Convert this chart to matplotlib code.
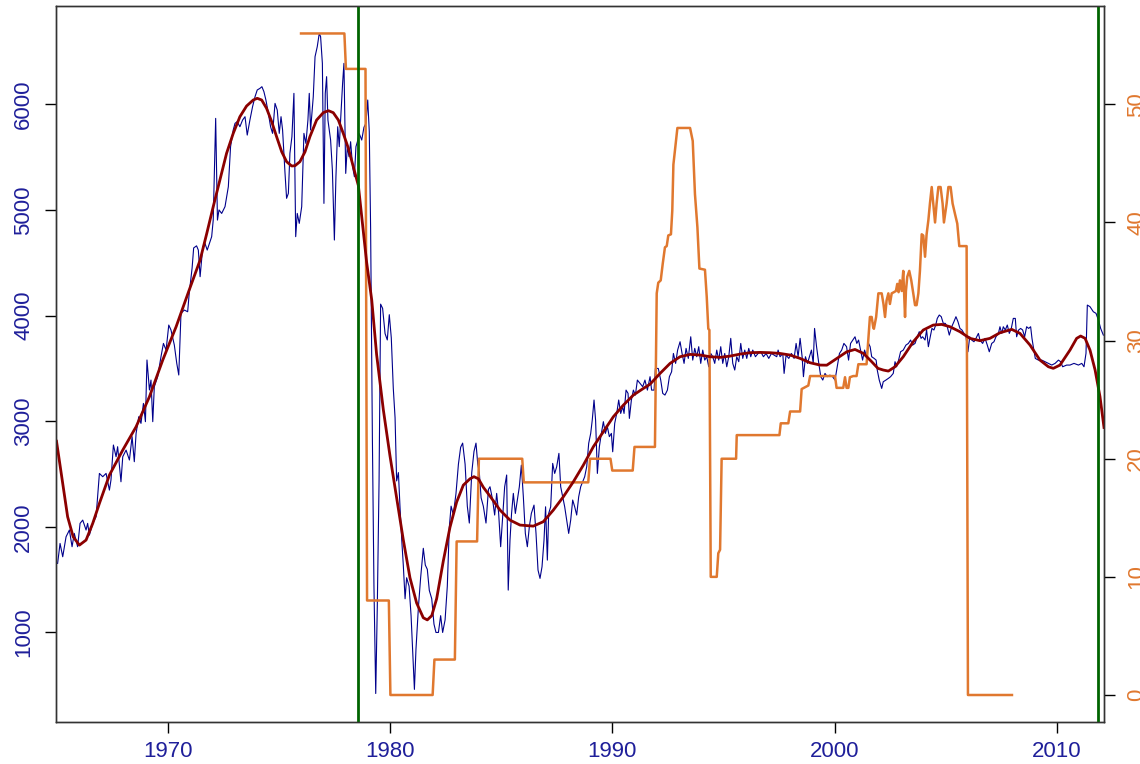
import matplotlib
matplotlib.use("Agg")
import matplotlib.pyplot as plt

plt.rcParams['font.family'] = ['Liberation Sans', 'DejaVu Sans']

# monthly series (left axis)
blue_year = [
    1965.05, 1965.16, 1965.28, 1965.43, 1965.58, 1965.70, 1965.80, 1965.95, 1966.06, 1966.18,
    1966.33, 1966.40, 1966.48, 1966.63, 1966.78, 1966.93, 1967.08, 1967.23, 1967.38, 1967.45,
    1967.56, 1967.68, 1967.75, 1967.90, 1967.98, 1968.13, 1968.28, 1968.40, 1968.50, 1968.58,
    1968.70, 1968.80, 1968.91, 1969.00, 1969.07, 1969.18, 1969.25, 1969.33, 1969.40, 1969.55,
    1969.70, 1969.81, 1969.93, 1970.05, 1970.15, 1970.30, 1970.41, 1970.50, 1970.60, 1970.75,
    1970.90, 1970.97, 1971.10, 1971.17, 1971.30, 1971.38, 1971.46, 1971.58, 1971.68, 1971.78,
    1971.88, 1971.98, 1972.05, 1972.16, 1972.24, 1972.31, 1972.43, 1972.58, 1972.73, 1972.83,
    1972.95, 1973.03, 1973.13, 1973.25, 1973.37, 1973.48, 1973.58, 1973.70, 1973.82, 1973.93,
    1974.03, 1974.15, 1974.24, 1974.33, 1974.42, 1974.53, 1974.63, 1974.72, 1974.83, 1974.93,
    1975.02, 1975.10, 1975.17, 1975.28, 1975.35, 1975.43, 1975.50, 1975.59, 1975.68, 1975.76,
    1975.83, 1975.92, 1976.03, 1976.13, 1976.22, 1976.31, 1976.37, 1976.43, 1976.55, 1976.63,
    1976.73, 1976.82, 1976.88, 1976.96, 1977.03, 1977.09, 1977.15, 1977.21, 1977.27, 1977.33,
    1977.41, 1977.50, 1977.57, 1977.65, 1977.72, 1977.78, 1977.87, 1977.93, 1978.01, 1978.08,
    1978.16, 1978.23, 1978.32, 1978.40, 1978.47, 1978.53, 1978.62, 1978.73, 1978.83, 1978.92,
    1979.00, 1979.07, 1979.13, 1979.21, 1979.28, 1979.36, 1979.43, 1979.51, 1979.58, 1979.67,
    1979.78, 1979.88, 1979.97, 1980.06, 1980.15, 1980.23, 1980.30, 1980.38, 1980.45, 1980.53,
    1980.60, 1980.68, 1980.75, 1980.86, 1980.95, 1981.02, 1981.10, 1981.17, 1981.28, 1981.38,
    1981.50, 1981.59, 1981.68, 1981.77, 1981.88, 1981.98, 1982.07, 1982.18, 1982.28, 1982.37,
    1982.48, 1982.58, 1982.67, 1982.75, 1982.85, 1982.97, 1983.08, 1983.18, 1983.27, 1983.38,
    1983.48, 1983.57, 1983.68, 1983.78, 1983.87, 1983.95, 1984.02, 1984.10, 1984.20, 1984.32,
    1984.43, 1984.50, 1984.62, 1984.71, 1984.80, 1984.89, 1984.98, 1985.07, 1985.16, 1985.25,
    1985.32, 1985.40, 1985.47, 1985.55, 1985.64, 1985.73, 1985.82, 1985.91, 1986.00, 1986.09,
    1986.18, 1986.27, 1986.36, 1986.48, 1986.57, 1986.66, 1986.75, 1986.84, 1986.93, 1987.00,
    1987.08, 1987.14, 1987.23, 1987.32, 1987.41, 1987.50, 1987.60, 1987.68, 1987.77, 1987.86,
    1987.95, 1988.04, 1988.13, 1988.22, 1988.31, 1988.40, 1988.49, 1988.58, 1988.67, 1988.76,
    1988.85, 1988.94, 1989.03, 1989.10, 1989.18, 1989.25, 1989.33, 1989.42, 1989.51, 1989.60,
    1989.69, 1989.78, 1989.87, 1989.96, 1990.02, 1990.11, 1990.20, 1990.29, 1990.38, 1990.47,
    1990.53, 1990.62, 1990.71, 1990.77, 1990.86, 1990.95, 1991.04, 1991.13, 1991.25, 1991.37,
    1991.47, 1991.58, 1991.70, 1991.77, 1991.88, 1991.94, 1992.07, 1992.18, 1992.27, 1992.37,
    1992.48, 1992.57, 1992.67, 1992.75, 1992.85, 1992.94, 1993.05, 1993.14, 1993.23, 1993.32,
    1993.42, 1993.53, 1993.62, 1993.71, 1993.80, 1993.89, 1993.98, 1994.07, 1994.16, 1994.25,
    1994.34, 1994.43, 1994.52, 1994.61, 1994.70, 1994.79, 1994.88, 1994.97, 1995.06, 1995.15,
    1995.24, 1995.33, 1995.42, 1995.51, 1995.60, 1995.69, 1995.78, 1995.87, 1995.96, 1996.05,
    1996.14, 1996.23, 1996.32, 1996.44, 1996.56, 1996.68, 1996.80, 1996.92, 1997.04, 1997.16,
    1997.28, 1997.40, 1997.46, 1997.55, 1997.67, 1997.73, 1997.82, 1997.94, 1998.06, 1998.18,
    1998.27, 1998.36, 1998.45, 1998.54, 1998.60, 1998.69, 1998.78, 1998.87, 1998.96, 1999.04,
    1999.10, 1999.19, 1999.29, 1999.38, 1999.47, 1999.57, 1999.67, 1999.79, 1999.91, 2000.02,
    2000.12, 2000.22, 2000.32, 2000.42, 2000.54, 2000.63, 2000.72, 2000.82, 2000.92, 2001.00,
    2001.08, 2001.17, 2001.26, 2001.35, 2001.44, 2001.53, 2001.60, 2001.67, 2001.78, 2001.87,
    2001.92, 2002.01, 2002.12, 2002.19, 2002.31, 2002.42, 2002.52, 2002.64, 2002.72, 2002.79,
    2002.88, 2002.97, 2003.09, 2003.21, 2003.32, 2003.42, 2003.51, 2003.62, 2003.72, 2003.81,
    2003.89, 2003.96, 2004.07, 2004.14, 2004.22, 2004.29, 2004.38, 2004.47, 2004.55, 2004.62,
    2004.71, 2004.80, 2004.89, 2004.98, 2005.07, 2005.16, 2005.27, 2005.37, 2005.46, 2005.55,
    2005.64, 2005.73, 2005.82, 2005.91, 2006.00, 2006.08, 2006.17, 2006.27, 2006.36, 2006.47,
    2006.54, 2006.66, 2006.77, 2006.87, 2006.96, 2007.07, 2007.17, 2007.26, 2007.37, 2007.44,
    2007.52, 2007.59, 2007.68, 2007.77, 2007.86, 2007.95, 2008.04, 2008.13, 2008.19, 2008.28,
    2008.37, 2008.46, 2008.55, 2008.64, 2008.73, 2008.82, 2008.88, 2008.94, 2009.03, 2009.17,
    2009.32, 2009.47, 2009.62, 2009.77, 2009.92, 2010.07, 2010.17, 2010.26, 2010.44, 2010.59,
    2010.77, 2010.97, 2011.12, 2011.22, 2011.31, 2011.37, 2011.49, 2011.64, 2011.76, 2011.87,
    2011.97, 2012.09,
]
blue_value = [
    1653, 1842, 1716, 1905, 1969, 1811, 1937, 1811, 2032, 2063,
    1969, 2032, 1921, 2032, 2095, 2505, 2474, 2505, 2347, 2442,
    2774, 2663, 2758, 2426, 2663, 2726, 2632, 2853, 2616, 2884,
    3042, 2979, 3168, 2995, 3579, 3295, 3389, 2995, 3326, 3421,
    3610, 3736, 3673, 3910, 3863, 3721, 3547, 3437, 4021, 4052,
    4036, 4210, 4450, 4640, 4660, 4620, 4368, 4652, 4683, 4620,
    4683, 4747, 4904, 5867, 4904, 5000, 4967, 5031, 5220, 5599,
    5757, 5820, 5836, 5788, 5851, 5883, 5709, 5851, 5978, 6072,
    6136, 6151, 6167, 6120, 6041, 5915, 5788, 5725, 6009, 5946,
    5725, 5883, 5757, 5346, 5110, 5157, 5536, 5694, 6104, 4747,
    4967, 4873, 5031, 5725, 5630, 5851, 6104, 5757, 6072, 6451,
    6546, 6672, 6641, 6388, 5062, 6104, 6262, 5851, 5757, 5662,
    5378, 4715, 5315, 5788, 5599, 5851, 6199, 6388, 5346, 5599,
    5504, 5646, 5409, 5315, 5599, 5642, 5722, 5662, 5782, 5822,
    6041, 5742, 4825, 2832, 1437, 421, 1238, 2434, 4108, 4068,
    3829, 3769, 4008, 3789, 3311, 3032, 2434, 2513, 2195, 1876,
    1637, 1318, 1517, 1437, 1158, 839, 460, 839, 1238, 1517,
    1796, 1637, 1597, 1397, 1318, 1078, 999, 999, 1158, 999,
    1118, 1437, 1995, 2195, 2115, 2314, 2593, 2753, 2792, 2593,
    2195, 2035, 2513, 2713, 2792, 2593, 2513, 2274, 2195, 2035,
    2354, 2379, 2253, 2111, 2316, 2126, 1811, 2095, 2379, 2490,
    1400, 1874, 2126, 2316, 2126, 2253, 2379, 2584, 2284, 1937,
    1811, 2000, 2126, 2205, 1937, 1590, 1511, 1621, 1874, 2189,
    1684, 2126, 2189, 2600, 2505, 2568, 2695, 2379, 2284, 2189,
    2063, 1937, 2063, 2253, 2189, 2111, 2284, 2379, 2426, 2474,
    2568, 2790, 2884, 3010, 3200, 3010, 2505, 2758, 2884, 2995,
    2884, 2947, 2853, 2884, 2710, 2979, 3073, 3200, 3073, 3137,
    3073, 3294, 3263, 3026, 3200, 3294, 3247, 3389, 3357, 3326,
    3389, 3294, 3421, 3294, 3294, 3499, 3499, 3389, 3263, 3247,
    3294, 3421, 3468, 3641, 3547, 3673, 3752, 3641, 3547, 3689,
    3594, 3799, 3578, 3689, 3610, 3705, 3547, 3673, 3578, 3610,
    3515, 3641, 3610, 3547, 3673, 3578, 3705, 3547, 3641, 3515,
    3610, 3784, 3547, 3484, 3610, 3563, 3736, 3594, 3673, 3594,
    3689, 3610, 3673, 3610, 3641, 3657, 3610, 3641, 3594, 3641,
    3626, 3610, 3673, 3610, 3641, 3452, 3626, 3594, 3641, 3594,
    3736, 3610, 3784, 3610, 3421, 3610, 3547, 3610, 3673, 3547,
    3878, 3705, 3547, 3421, 3389, 3452, 3421, 3436, 3421, 3389,
    3515, 3641, 3673, 3736, 3705, 3578, 3736, 3768, 3799, 3736,
    3768, 3673, 3578, 3673, 3610, 3736, 3705, 3610, 3594, 3578,
    3484, 3389, 3310, 3373, 3389, 3405, 3421, 3452, 3563, 3515,
    3578, 3657, 3673, 3720, 3736, 3768, 3720, 3736, 3799, 3847,
    3784, 3799, 3768, 3863, 3705, 3784, 3878, 3863, 3910, 3973,
    4005, 3989, 3926, 3926, 3894, 3815, 3894, 3942, 3989, 3942,
    3878, 3863, 3831, 3799, 3657, 3799, 3768, 3752, 3784, 3831,
    3768, 3736, 3784, 3720, 3657, 3736, 3752, 3799, 3831, 3894,
    3831, 3894, 3863, 3910, 3831, 3878, 3973, 3973, 3799, 3863,
    3878, 3863, 3799, 3894, 3878, 3894, 3784, 3705, 3594, 3578,
    3578, 3563, 3547, 3531, 3547, 3578, 3563, 3515, 3531, 3531,
    3547, 3531, 3547, 3515, 3642, 4099, 4084, 4036, 4021, 3957,
    3878, 3815,
]

# smooth trend (left axis)
trend_year = [
    1965.00, 1965.30, 1965.50, 1965.75, 1966.03, 1966.33, 1966.63, 1966.93, 1967.38, 1967.98,
    1968.58, 1969.18, 1969.78, 1970.38, 1970.97, 1971.46, 1971.76, 1972.05, 1972.35, 1972.65,
    1972.95, 1973.25, 1973.55, 1973.85, 1974.03, 1974.23, 1974.45, 1974.68, 1974.90, 1975.13,
    1975.35, 1975.58, 1975.73, 1975.95, 1976.18, 1976.40, 1976.70, 1977.00, 1977.23, 1977.45,
    1977.68, 1977.90, 1978.13, 1978.35, 1978.58, 1978.95, 1979.18, 1979.40, 1979.70, 1980.00,
    1980.30, 1980.60, 1980.90, 1981.20, 1981.50, 1981.68, 1981.88, 1982.10, 1982.40, 1982.70,
    1983.00, 1983.30, 1983.60, 1983.78, 1983.98, 1984.20, 1984.50, 1984.95, 1985.40, 1985.85,
    1986.45, 1986.90, 1987.35, 1987.80, 1988.25, 1988.70, 1989.15, 1989.60, 1990.05, 1990.50,
    1990.95, 1991.40, 1991.70, 1992.15, 1992.60, 1993.05, 1993.50, 1993.95, 1994.40, 1994.85,
    1995.30, 1995.75, 1996.20, 1996.65, 1997.10, 1997.55, 1998.00, 1998.45, 1998.90, 1999.35,
    1999.65, 2000.10, 2000.55, 2000.92, 2001.30, 2001.67, 2001.95, 2002.19, 2002.42, 2002.72,
    2003.09, 2003.54, 2003.99, 2004.44, 2004.82, 2005.19, 2005.64, 2006.09, 2006.54, 2006.99,
    2007.44, 2007.97, 2008.34, 2008.79, 2009.24, 2009.62, 2009.84, 2010.14, 2010.59, 2010.89,
    2011.07, 2011.27, 2011.49, 2011.72, 2011.94, 2012.12,
]
trend_value = [
    2810, 2380, 2095, 1905, 1826, 1874, 2032, 2221, 2489, 2726,
    2947, 3231, 3579, 3894, 4242, 4525, 4778, 5031, 5283, 5536,
    5725, 5883, 5984, 6041, 6057, 6041, 5962, 5836, 5694, 5551,
    5457, 5416, 5419, 5457, 5551, 5694, 5851, 5921, 5940, 5921,
    5851, 5725, 5583, 5409, 5230, 4506, 4148, 3630, 3111, 2673,
    2274, 1876, 1517, 1278, 1138, 1118, 1158, 1318, 1676, 1995,
    2234, 2394, 2454, 2474, 2454, 2374, 2290, 2158, 2063, 2016,
    2006, 2048, 2158, 2284, 2426, 2584, 2758, 2900, 3042, 3152,
    3247, 3310, 3350, 3452, 3547, 3610, 3632, 3626, 3610, 3604,
    3616, 3635, 3648, 3651, 3648, 3641, 3626, 3594, 3553, 3531,
    3530, 3594, 3657, 3679, 3641, 3563, 3500, 3484, 3474, 3515,
    3610, 3752, 3863, 3910, 3916, 3894, 3847, 3784, 3762, 3784,
    3837, 3869, 3831, 3721, 3578, 3515, 3500, 3531, 3673, 3784,
    3806, 3784, 3673, 3484, 3231, 2940,
]

# second series (right axis)
orange_year = [
    1976.00, 1977.95, 1978.02, 1978.90, 1978.97, 1979.95, 1980.02, 1981.92, 1982.00, 1982.92,
    1983.00, 1983.92, 1984.00, 1985.95, 1986.02, 1988.92, 1989.00, 1989.92, 1990.00, 1990.92,
    1991.00, 1991.92, 1992.00, 1992.07, 1992.18, 1992.27, 1992.37, 1992.45, 1992.52, 1992.64,
    1992.70, 1992.75, 1992.82, 1992.93, 1993.50, 1993.62, 1993.72, 1993.83, 1993.92, 1994.17,
    1994.25, 1994.32, 1994.37, 1994.43, 1994.70, 1994.77, 1994.85, 1994.92, 1995.57, 1995.60,
    1997.52, 1997.58, 1997.92, 1998.00, 1998.45, 1998.52, 1998.82, 1998.90, 2000.02, 2000.09,
    2000.39, 2000.47, 2000.54, 2000.62, 2000.69, 2000.84, 2000.99, 2001.07, 2001.44, 2001.59,
    2001.67, 2001.74, 2001.77, 2001.87, 2001.97, 2002.12, 2002.20, 2002.27, 2002.34, 2002.42,
    2002.49, 2002.57, 2002.67, 2002.76, 2002.82, 2002.88, 2002.94, 2003.02, 2003.09, 2003.17,
    2003.21, 2003.27, 2003.36, 2003.45, 2003.54, 2003.62, 2003.69, 2003.77, 2003.84, 2003.92,
    2003.99, 2004.07, 2004.14, 2004.22, 2004.29, 2004.37, 2004.44, 2004.52, 2004.59, 2004.67,
    2004.77, 2004.86, 2004.92, 2005.04, 2005.12, 2005.22, 2005.31, 2005.42, 2005.52, 2005.61,
    2005.94, 2006.00, 2007.98,
]
orange_value = [
    56.0, 56.0, 53.0, 53.0, 8.0, 8.0, 0.0, 0.0, 3.0, 3.0,
    13.0, 13.0, 20.0, 20.0, 18.0, 18.0, 20.0, 20.0, 19.0, 19.0,
    21.0, 21.0, 34.0, 34.9, 35.1, 36.5, 37.9, 38.0, 38.9, 39.0,
    41.0, 44.9, 46.1, 48.0, 48.0, 46.9, 42.4, 39.6, 36.1, 36.0,
    33.7, 31.0, 30.9, 10.0, 10.0, 12.0, 12.3, 20.0, 20.0, 22.0,
    22.0, 23.0, 23.0, 24.0, 24.0, 25.9, 26.2, 27.0, 27.0, 26.0,
    26.0, 26.9, 26.0, 26.0, 26.9, 27.0, 27.0, 28.0, 28.0, 32.0,
    32.0, 31.1, 31.0, 32.0, 34.0, 34.0, 33.1, 32.0, 33.4, 34.0,
    33.1, 34.0, 34.1, 34.2, 34.8, 34.1, 35.1, 34.2, 35.9, 32.0,
    34.2, 35.4, 35.9, 35.1, 34.0, 33.0, 33.0, 34.0, 35.9, 39.0,
    38.9, 37.1, 39.0, 40.2, 41.6, 43.0, 41.6, 40.0, 41.6, 43.0,
    43.0, 41.6, 40.0, 41.6, 43.0, 43.0, 41.6, 40.7, 39.9, 38.0,
    38.0, 0.0, 0.0,
]

break_years = [1978.58, 2011.85]
left_ticks = [1000, 2000, 3000, 4000, 5000, 6000]
right_ticks = [0, 10, 20, 30, 40, 50]
x_ticks = [1970, 1980, 1990, 2000, 2010]

BLUE = '#00008B'
LABEL_BLUE = '#1f1f9a'
ORANGE = '#E0782F'
RED = '#8B0000'
GREEN = '#006400'

fig = plt.figure(figsize=(11.4, 7.64), dpi=100)
ax = fig.add_axes([0.04956, 0.05537, 0.91886, 0.93717])
ax2 = ax.twinx()

ax.plot(blue_year, blue_value, color=BLUE, lw=0.8)
ax2.plot(orange_year, orange_value, color=ORANGE, lw=1.8)
ax2.plot(trend_year, trend_value, color=RED, lw=2.0, transform=ax.transData)
for yr in break_years:
    ax2.axvline(yr, color=GREEN, lw=2.0)

ax.set_xlim(1965.0, 2012.12)
ax.set_ylim(154, 6934)
ax2.set_ylim(-2.26, 58.35)

ax.set_xticks(x_ticks)
ax.set_yticks(left_ticks)
ax2.set_yticks(right_ticks)

ax.tick_params(axis='x', length=8, width=1, pad=6, labelsize=16, labelcolor=LABEL_BLUE)
ax.tick_params(axis='y', length=8, width=1, pad=8, labelsize=16, labelcolor=LABEL_BLUE,
               labelrotation=90)
ax2.tick_params(axis='y', length=8, width=1, pad=8, labelsize=16, labelcolor=ORANGE,
                labelrotation=90)
for lab in ax.get_yticklabels() + ax2.get_yticklabels():
    lab.set_verticalalignment('center')

for a in (ax, ax2):
    for s in a.spines.values():
        s.set_color('#333333')
        s.set_linewidth(1.0)

fig.savefig('out.png', dpi=100)
